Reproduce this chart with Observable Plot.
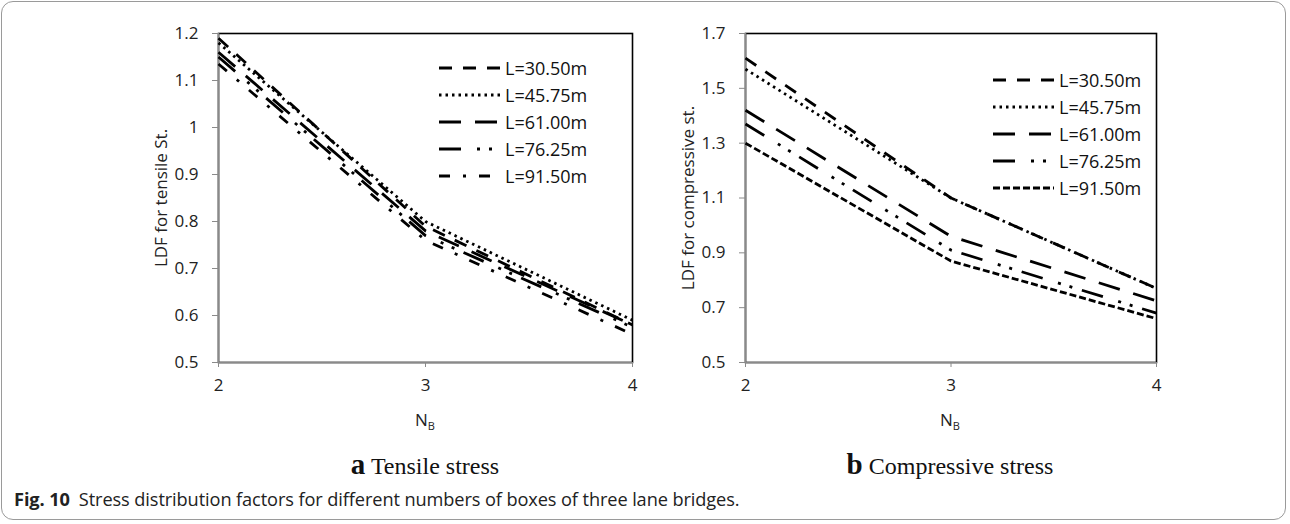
<!DOCTYPE html>
<html>
<head>
<meta charset="utf-8">
<script src="https://cdn.jsdelivr.net/npm/d3@7"></script>
<script src="https://cdn.jsdelivr.net/npm/@observablehq/plot@0.6"></script>
<style>
  html, body { margin: 0; padding: 0; background: #fff; }
  #fig { position: relative; width: 1290px; height: 524px; overflow: hidden; font-family: "Open Sans", sans-serif; }
  #border { position: absolute; left: 1px; top: 1px; width: 1285px; height: 519px; border: 1px solid #9a9a9a; border-radius: 12px; box-sizing: border-box; }
  .chart { position: absolute; top: 0; }
  .xlabel { position: absolute; font-family: "Open Sans", sans-serif; font-size: 17px; color: #222; transform: translateX(-50%); white-space: nowrap; }
  .xlabel sub { font-size: 11px; vertical-align: -4px; }
  .subtitle { position: absolute; font-family: "Liberation Serif", serif; font-size: 24px; color: #111; transform: translateX(-50%); white-space: nowrap; }
  .subtitle b { font-size: 29px; }
  .legend { position: absolute; font-family: "Open Sans", sans-serif; font-size: 18px; color: #111; }
  .legend .row { display: flex; align-items: center; height: 27px; }
  .legend svg { margin-right: 5px; }
  #caption { position: absolute; left: 14px; top: 487px; font-family: "Open Sans", sans-serif; font-size: 18.2px; color: #222; white-space: nowrap; letter-spacing: -0.1px; }
  #caption b { margin-right: 9px; }
</style>
</head>
<body>
<div id="fig">
  <div id="border"></div>
  <div id="left" class="chart" style="left:0px"></div>
  <div id="right" class="chart" style="left:527px"></div>
  <div id="caption"><b>Fig. 10</b>Stress distribution factors for different numbers of boxes of three lane bridges.</div>
</div>
<script>
// ---- Data ----
const nbValues = [2, 3, 4];
const seriesLabels = ["L=30.50m", "L=45.75m", "L=61.00m", "L=76.25m", "L=91.50m"];

// (a) Tensile stress
const tensile3050 = [1.19, 0.79, 0.58];
const tensile4575 = [1.18, 0.80, 0.59];
const tensile6100 = [1.16, 0.78, 0.58];
const tensile7625 = [1.15, 0.77, 0.575];
const tensile9150 = [1.135, 0.76, 0.56];
const tensileTicks = [0.5, 0.6, 0.7, 0.8, 0.9, 1, 1.1, 1.2];

// (b) Compressive stress
const compress3050 = [1.61, 1.10, 0.77];
const compress4575 = [1.57, 1.10, 0.77];
const compress6100 = [1.42, 0.96, 0.725];
const compress7625 = [1.37, 0.91, 0.68];
const compress9150 = [1.30, 0.87, 0.66];
const compressTicks = [0.5, 0.7, 0.9, 1.1, 1.3, 1.5, 1.7];

// line styles (dash patterns) per series
const dashTensile = ["13,11", "2.5,4", "22,14", "22,16,3,9,3,10", "11,13,3,13"];
const dashCompress = ["13,11", "2.5,4", "22,14", "22,16,3,9,3,10", "7,3"];

function rowsFrom(seriesArrays) {
  const rows = [];
  seriesArrays.forEach((vals, i) => {
    vals.forEach((v, j) => rows.push({ series: seriesLabels[i], nb: nbValues[j], value: v }));
  });
  return rows;
}

function makeChart({ rows, ticks, dashes, label, width, plotWidth }) {
  const marginLeft = 218;
  const marginTop = 33;
  const height = 400;
  const marginBottom = 38;
  const marginRight = width - marginLeft - plotWidth;
  const domain = [ticks[0], ticks[ticks.length - 1]];
  const lines = seriesLabels.map((s, i) =>
    Plot.line(rows.filter(d => d.series === s), {
      x: "nb", y: "value", stroke: "#000", strokeWidth: 2.8,
      strokeDasharray: dashes[i], strokeLinecap: "butt"
    })
  );
  return Plot.plot({
    width, height, marginLeft, marginRight, marginTop, marginBottom,
    style: { fontFamily: "'Open Sans', sans-serif", fontSize: "17px", color: "#222", background: "transparent" },
    x: { domain: [nbValues[0], nbValues[nbValues.length - 1]] },
    y: { domain },
    marks: [
      Plot.frame({ stroke: "#000", strokeWidth: 1.6 }),
      Plot.ruleX([nbValues[0]], { stroke: "#8a8a8a", strokeWidth: 1.6 }),
      Plot.ruleY([domain[0]], { stroke: "#8a8a8a", strokeWidth: 1.6 }),
      Plot.axisY({
        ticks, tickSize: 6, tickPadding: 14, stroke: "#8a8a8a",
        tickFormat: d => String(d),
        label, labelAnchor: "center", labelOffset: 64, labelArrow: "none"
      }),
      Plot.axisX({ ticks: nbValues, tickSize: 5, tickPadding: 11, stroke: "#8a8a8a", tickFormat: d => String(d), label: null }),
      ...lines
    ]
  });
}

function addLegend(container, left, top, dashes) {
  const div = document.createElement("div");
  div.className = "legend";
  div.style.left = left + "px";
  div.style.top = top + "px";
  seriesLabels.forEach((s, i) => {
    const row = document.createElement("div");
    row.className = "row";
    row.innerHTML = `<svg width="61" height="10"><line x1="0" y1="5" x2="61" y2="5" stroke="#000" stroke-width="2.9" stroke-dasharray="${dashes[i]}"/></svg><span>${s}</span>`;
    div.appendChild(row);
  });
  container.appendChild(div);
}

function addText(container, cls, html, left, top) {
  const el = document.createElement("div");
  el.className = cls;
  el.style.left = left + "px";
  el.style.top = top + "px";
  el.innerHTML = html;
  container.appendChild(el);
}

const fig = document.getElementById("fig");

document.getElementById("left").appendChild(makeChart({
  rows: rowsFrom([tensile3050, tensile4575, tensile6100, tensile7625, tensile9150]),
  ticks: tensileTicks, dashes: dashTensile, label: "LDF for tensile St.",
  width: 645, plotWidth: 414
}));
document.getElementById("right").appendChild(makeChart({
  rows: rowsFrom([compress3050, compress4575, compress6100, compress7625, compress9150]),
  ticks: compressTicks, dashes: dashCompress, label: "LDF for compressive st.",
  width: 645, plotWidth: 411
}));

addLegend(fig, 439, 54, dashTensile);
addLegend(fig, 993, 66, dashCompress);

addText(fig, "xlabel", "N<sub>B</sub>", 425, 408);
addText(fig, "xlabel", "N<sub>B</sub>", 950, 408);
addText(fig, "subtitle", "<b>a</b> Tensile stress", 425, 448);
addText(fig, "subtitle", "<b>b</b> Compressive stress", 950, 448);
</script>
</body>
</html>
